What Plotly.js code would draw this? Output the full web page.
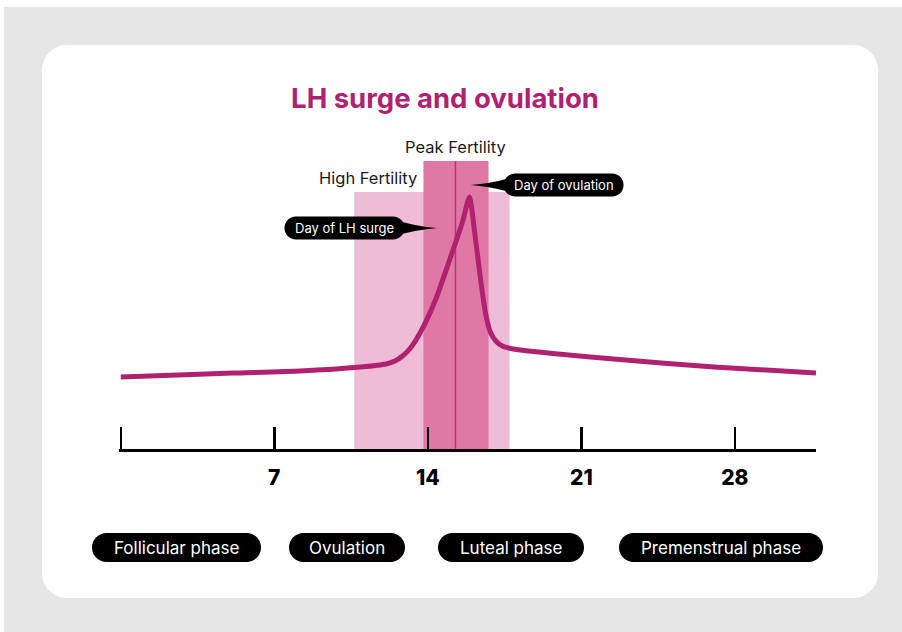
<!DOCTYPE html>
<html>
<head>
<meta charset="utf-8">
<script src="https://cdn.plot.ly/plotly-3.0.1.min.js"></script>
<style>
  html, body { margin: 0; padding: 0; background: #ffffff; width: 902px; height: 632px; overflow: hidden; }
  #chart { position: absolute; left: 4px; top: 7px; width: 898px; height: 625px; }
</style>
</head>
<body>
<div id="chart"></div>
<script>
// ---------- data ----------
const cycleDays = [0, 2.6, 5.13, 8.19, 10.93, 12.1, 12.5, 12.85, 13.21, 13.67, 14.35, 15.04, 15.58, 15.9,
                   16.18, 16.41, 16.63, 16.85, 17.1, 17.4, 17.9, 18.6, 19.47, 22.48, 27.05, 31.7];
const lhLevel   = [14.4, 14.8, 15.2, 15.6, 16.4, 17.0, 17.6, 18.6, 20.2, 23.4, 29.8, 38.4, 45.4, 50.4,
                   41.8, 33.8, 27.2, 23.4, 21.6, 20.6, 20.0, 19.6, 19.2, 18.0, 16.4, 15.2];

const tickDays   = [0, 7, 14, 21, 28];
const tickLabels = ['', '7', '14', '21', '28'];

const highFertility = [10.65, 17.73];   // days
const highFertilityLevel = 51.4;
const peakFertility = [13.80, 16.77];   // days
const peakFertilityLevel = 57.6;
const ovulationDay = 15.26;

const lhSurgePoint   = [14.44, 44.2];   // where the "Day of LH surge" callout points
const ovulationPoint = [15.95, 52.8];   // where the "Day of ovulation" callout points

const phases = ['Follicular phase', 'Ovulation', 'Luteal phase', 'Premenstrual phase'];

// ---------- layout helpers (pixel geometry, not data) ----------
const FONT = 'Inter, "Open Sans", sans-serif';
const MAGENTA = '#b0226f';
const L = 115.0, T = 133, W = 697, H = 309;   // plot area in div pixels
const K = 0.5523;

function roundedRectPath(x0, y0, x1, y1, r, ax, ay) {
  const P = (x, y) => (x - ax).toFixed(2) + ',' + (ay - y).toFixed(2);
  const k = K * r;
  return 'M' + P(x0 + r, y0) +
    ' L' + P(x1 - r, y0) +
    ' C' + P(x1 - r + k, y0) + ' ' + P(x1, y0 + r - k) + ' ' + P(x1, y0 + r) +
    ' L' + P(x1, y1 - r) +
    ' C' + P(x1, y1 - r + k) + ' ' + P(x1 - r + k, y1) + ' ' + P(x1 - r, y1) +
    ' L' + P(x0 + r, y1) +
    ' C' + P(x0 + r - k, y1) + ' ' + P(x0, y1 - r + k) + ' ' + P(x0, y1 - r) +
    ' L' + P(x0, y0 + r) +
    ' C' + P(x0, y0 + r - k) + ' ' + P(x0 + r - k, y0) + ' ' + P(x0 + r, y0) + ' Z';
}

const shapes = [];
const annotations = [];

// card
shapes.push({
  type: 'path', xref: 'paper', yref: 'paper', xsizemode: 'pixel', ysizemode: 'pixel',
  xanchor: 0, yanchor: 0, layer: 'below',
  path: roundedRectPath(38, 38, 874, 591, 25, L, T + H),
  fillcolor: '#ffffff', line: { width: 0 }
});

// fertility bands
shapes.push({ type: 'rect', xref: 'x', yref: 'y', layer: 'below',
  x0: highFertility[0], x1: highFertility[1], y0: 0, y1: highFertilityLevel,
  fillcolor: '#efbcd8', line: { width: 0 } });
shapes.push({ type: 'rect', xref: 'x', yref: 'y', layer: 'below',
  x0: peakFertility[0], x1: peakFertility[1], y0: 0, y1: peakFertilityLevel,
  fillcolor: '#e078a6', line: { width: 0 } });
shapes.push({ type: 'line', xref: 'x', yref: 'y', layer: 'below',
  x0: ovulationDay, x1: ovulationDay, y0: 0, y1: peakFertilityLevel,
  line: { color: '#b8327a', width: 1.5 } });

// callouts
function callout(pt, side, text) {
  const near = 33, far = 153;
  const x0 = side < 0 ? -far : near, x1 = side < 0 ? -near : far;
  shapes.push({
    type: 'path', xref: 'x', yref: 'y', xsizemode: 'pixel', ysizemode: 'pixel',
    xanchor: pt[0], yanchor: pt[1], layer: 'above',
    path: roundedRectPath(x0, -11.5, x1, 11.5, 11.5, 0, 0),
    fillcolor: '#000000', line: { width: 0 }
  });
  const b = side * 46;
  shapes.push({
    type: 'path', xref: 'x', yref: 'y', xsizemode: 'pixel', ysizemode: 'pixel',
    xanchor: pt[0], yanchor: pt[1], layer: 'above',
    path: 'M' + b + ',9 Q' + (side * 22) + ',1.5 0,0 Q' + (side * 22) + ',-1.5 ' + b + ',-9 Z',
    fillcolor: '#000000', line: { width: 0 }
  });
  annotations.push({
    xref: 'x', yref: 'y', x: pt[0], y: pt[1], xshift: side * (near + far) / 2, yshift: 0,
    text: text, showarrow: false, xanchor: 'center', yanchor: 'middle',
    font: { family: FONT, size: 13, color: '#ffffff' }
  });
}
callout(lhSurgePoint, -1, 'Day of LH surge');
callout(ovulationPoint, 1, 'Day of ovulation');

// band labels
annotations.push({
  xref: 'x', yref: 'y', x: (peakFertility[0] + peakFertility[1]) / 2, y: peakFertilityLevel,
  yanchor: 'bottom', xanchor: 'center', yshift: 2, showarrow: false,
  text: 'Peak Fertility', font: { family: FONT, size: 16.5, color: '#1a1a1a' }
});
annotations.push({
  xref: 'x', yref: 'y', x: peakFertility[0], y: highFertilityLevel,
  yanchor: 'bottom', xanchor: 'right', xshift: -4, yshift: 2, showarrow: false,
  text: 'High Fertility', font: { family: FONT, size: 16.5, color: '#1a1a1a' }
});

// phase pills
const phasePills = [[88, 257], [285, 401], [434, 580], [615, 819]];
const pillTop = 526, pillBot = 555;
phases.forEach((name, i) => {
  const [x0, x1] = phasePills[i];
  shapes.push({
    type: 'path', xref: 'paper', yref: 'paper', xsizemode: 'pixel', ysizemode: 'pixel',
    xanchor: 0, yanchor: 0, layer: 'above',
    path: roundedRectPath(x0, pillTop, x1, pillBot, 14.5, L, T + H),
    fillcolor: '#000000', line: { width: 0 }
  });
  annotations.push({
    xref: 'paper', yref: 'paper', x: ((x0 + x1) / 2 - L) / W, y: (T + H - (pillTop + pillBot) / 2) / H,
    xanchor: 'center', yanchor: 'middle', showarrow: false, text: name,
    font: { family: FONT, size: 17, color: '#ffffff' }
  });
});

const trace = {
  x: cycleDays, y: lhLevel, type: 'scatter', mode: 'lines',
  line: { color: MAGENTA, width: 5, shape: 'spline', smoothing: 0.55 },
  hoverinfo: 'skip', showlegend: false, cliponaxis: false
};

const layout = {
  width: 898, height: 625,
  margin: { l: L, r: 898 - L - W, t: T, b: 625 - T - H, pad: 0 },
  paper_bgcolor: '#e6e6e6',
  plot_bgcolor: 'rgba(0,0,0,0)',
  title: {
    text: '<b>LH surge and ovulation</b>',
    font: { family: FONT, size: 27.5, color: MAGENTA },
    x: (441 - L) / W, xref: 'paper', xanchor: 'center',
    y: 1 - 91 / 625, yref: 'container', yanchor: 'middle'
  },
  xaxis: {
    range: [-0.08, 31.7], showgrid: false, zeroline: false,
    showline: true, linecolor: '#000000', linewidth: 2.5,
    ticks: 'inside', ticklen: 22, tickwidth: 2.5, tickcolor: '#000000',
    tickvals: tickDays, ticktext: tickLabels,
    tickfont: { family: FONT, size: 21, color: '#000000', weight: 800 },
    ticklabelstandoff: 8, fixedrange: true
  },
  yaxis: { range: [0, 61.8], visible: false, fixedrange: true },
  shapes: shapes,
  annotations: annotations,
  showlegend: false
};

Plotly.newPlot('chart', [trace], layout, { staticPlot: true, displayModeBar: false });
</script>
</body>
</html>
